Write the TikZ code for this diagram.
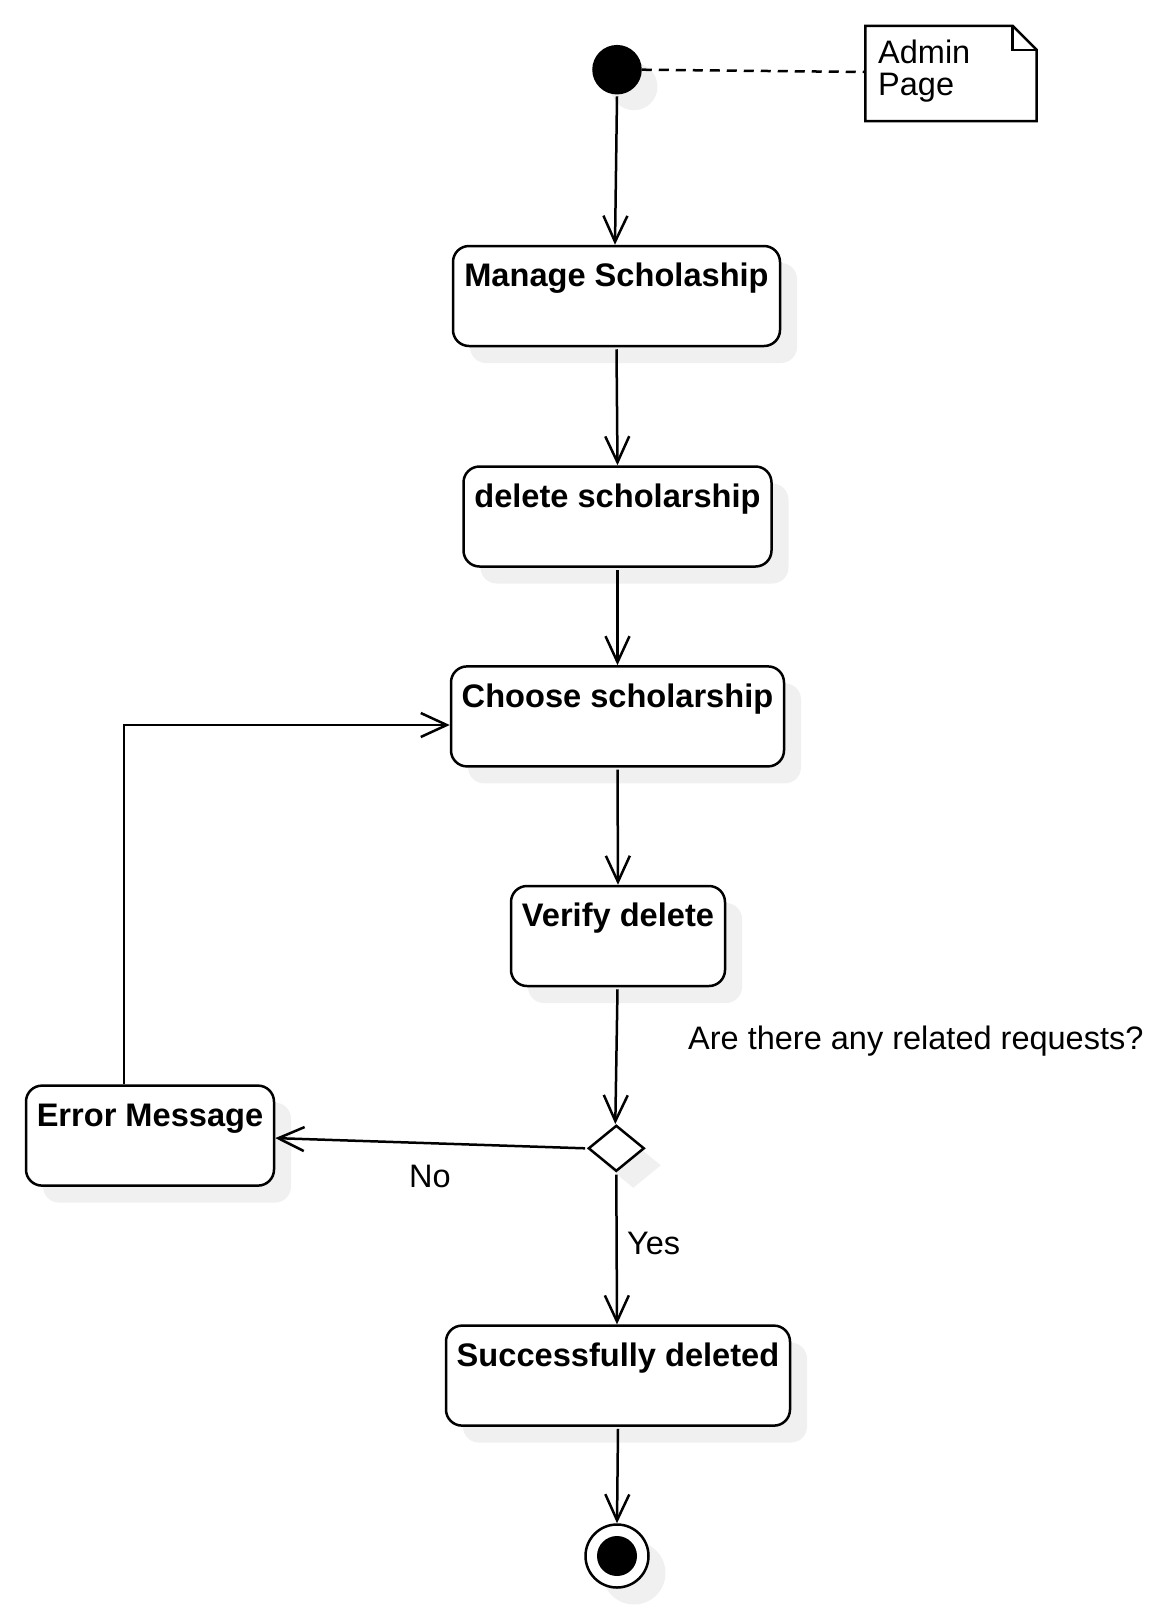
\documentclass[tikz,border=0pt]{standalone}
\usepackage{fontspec}
\setmainfont{Liberation Sans}
\usetikzlibrary{arrows.meta,shapes.geometric,shadows}
\definecolor{shade}{HTML}{F0F0F0}
\begin{document}
\begin{tikzpicture}[x=1pt,y=-1pt,
  every node/.style={font=\fontsize{32.5}{32}\selectfont},
  ln/.style={line width=2.5pt},
  sh/.style={drop shadow={shadow xshift=17pt,shadow yshift=-17pt,fill=shade,opacity=1}},
  act/.style={draw,ln,rounded corners=16pt,sh,fill=white,inner sep=0pt,minimum height=100pt},
  acttext/.style={label={[anchor=base,yshift=-42pt,inner sep=0pt,font=\bfseries\fontsize{32.6}{32}\selectfont]north:#1}},
  flow/.style={ln,-{Straight Barb[length=26pt,width=24pt]}},
  plain/.style={inner sep=0pt,anchor=base west},
]
\useasboundingbox (0,0) rectangle (1167,1615);

% initial node and note
\node[circle,fill=black,draw,ln,minimum size=47pt,inner sep=0pt,sh] (start) at (617,69.7) {};
\node[minimum width=171pt,minimum height=95pt,inner sep=0pt] (note) at (951,73.5) {};
\draw[ln,fill=white] (note.north west) -- ([xshift=-24pt]note.north east) -- ([yshift=-24pt]note.north east) -- (note.south east) -- (note.south west) -- cycle;
\draw[ln] ([xshift=-24pt]note.north east) |- ([yshift=-24pt]note.north east);
\node[anchor=north west,align=left,inner sep=0pt,font=\fontsize{32.5}{31.5}\selectfont] (notetxt) at (878,40.2) {Admin\\Page};

% activities
\node[act,acttext={Manage Scholaship},minimum width=327pt] (manage) at (616.5,296) {};
\node[act,acttext={delete scholarship},minimum width=308pt] (delete) at (617.5,516.5) {};
\node[act,acttext={Choose scholarship},minimum width=333pt] (choose) at (617.5,716.4) {};
\node[act,acttext={Verify delete},minimum width=214pt] (verify) at (618,936) {};
\node[act,acttext={Error Message},minimum width=248pt] (err) at (150,1135.6) {};
\node[diamond,draw,ln,fill=white,sh,minimum width=56pt,minimum height=46pt,aspect=1.2,inner sep=0pt] (dec) at (616.3,1148.3) {};
\node[act,acttext={Successfully deleted},minimum width=344pt] (succ) at (618,1375.6) {};

% final node
\node[circle,draw,ln,fill=white,minimum size=63pt,inner sep=0pt,sh] (endc) at (617,1556) {};
\node[circle,fill=black,minimum size=40pt,inner sep=0pt] (endin) at (endc.center) {};

% labels
\node[plain] (q) at (688,1049) {Are there any related requests?};
\node[plain] (no) at (409,1187) {No};
\node[plain] (yes) at (627,1254) {Yes};

% connectors
\draw[ln,dash pattern=on 10pt off 7pt] (start.east) -- ([yshift=1.5pt]note.west);
\draw[flow] ([yshift=-2pt]start.south) -- ([xshift=-1.5pt]manage.north);
\draw[flow] ([yshift=-2pt]manage.south) -- (delete.north);
\draw[flow] ([yshift=-2pt]delete.south) -- (choose.north);
\draw[flow] ([yshift=-2pt]choose.south) -- (verify.north);
\draw[flow] ([xshift=-0.5pt,yshift=-2pt]verify.south) -- ([xshift=-1pt]dec.north);
\draw[flow] ([xshift=-2pt]dec.west) -- ([yshift=-2.5pt]err.east);
\draw[flow] ([yshift=-2pt]dec.south) -- ([xshift=-1pt]succ.north);
\draw[flow] ([yshift=-2pt]succ.south) -- (endc.north);
\draw[flow] ([xshift=-26pt]err.north) |- ([yshift=-8.6pt]choose.west);
\end{tikzpicture}
\end{document}
